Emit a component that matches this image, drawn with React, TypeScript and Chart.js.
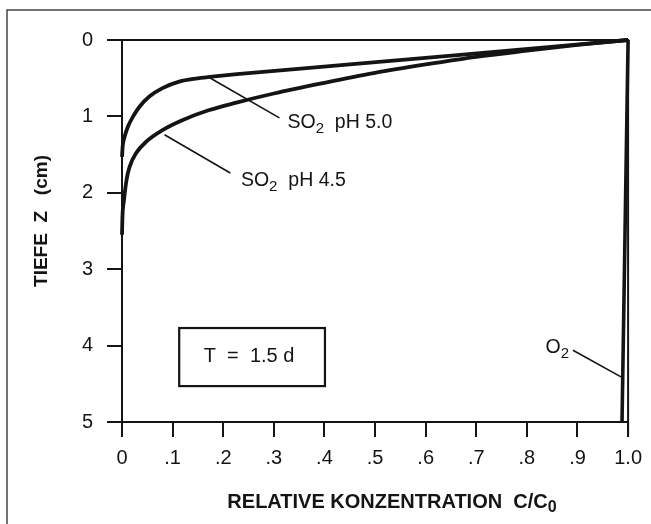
import React, { useEffect, useRef } from "react";
import { Chart, registerables } from "chart.js";

Chart.register(...registerables);

// SO2 pH 5.0 profile: relative concentration vs depth
const ph50Conc = [0, 0.0015, 0.005, 0.012, 0.022, 0.035, 0.054, 0.08, 0.113, 0.145, 0.178, 0.227, 0.45, 0.657, 1.0];
const ph50Depth = [1.53, 1.38, 1.27, 1.13, 1.0, 0.87, 0.74, 0.63, 0.545, 0.505, 0.48, 0.448, 0.32, 0.2, 0.0];
// SO2 pH 4.5 profile
const ph45Conc = [0, 0.001, 0.004, 0.009, 0.015, 0.028, 0.048, 0.08, 0.119, 0.171, 0.226, 0.3, 0.4, 0.5, 0.6, 0.7, 0.8, 0.9, 1.0];
const ph45Depth = [2.55, 2.3, 2.09, 1.83, 1.66, 1.48, 1.33, 1.18, 1.05, 0.92, 0.82, 0.7, 0.56, 0.43, 0.32, 0.22, 0.14, 0.065, 0.0];
// O2 profile
const o2Conc = [1.0, 0.988];
const o2Depth = [0, 5];

const xTickLabels = ["0", ".1", ".2", ".3", ".4", ".5", ".6", ".7", ".8", ".9", "1.0"];
const yTickLabels = ["0", "1", "2", "3", "4", "5"];

const toPoints = (xs: number[], ys: number[]) => xs.map((x, i) => ({ x, y: ys[i] }));

const INK = "#141414";
const FONT = "'Liberation Sans', Arial, Helvetica, sans-serif";

type Part = { t: string; sub?: boolean };

function drawRich(ctx: CanvasRenderingContext2D, parts: Part[], x: number, y: number, size: number, subSize: number, subDy: number, weight = "normal") {
  let cx = x;
  for (const p of parts) {
    const s = p.sub ? subSize : size;
    ctx.font = `${weight} ${s}px ${FONT}`;
    ctx.fillText(p.t, cx, p.sub ? y + subDy : y);
    cx += ctx.measureText(p.t).width;
  }
  return cx;
}

function richWidth(ctx: CanvasRenderingContext2D, parts: Part[], size: number, subSize: number, weight = "normal") {
  let w = 0;
  for (const p of parts) {
    ctx.font = `${weight} ${p.sub ? subSize : size}px ${FONT}`;
    w += ctx.measureText(p.t).width;
  }
  return w;
}

const annotations = {
  id: "annotations",
  afterDraw(chart: any) {
    const ctx: CanvasRenderingContext2D = chart.ctx;
    const { left, right, top, bottom } = chart.chartArea;
    const xs = chart.scales.x;
    const ys = chart.scales.y;
    const px = (v: number) => xs.getPixelForValue(v);
    const py = (v: number) => ys.getPixelForValue(v);
    ctx.save();
    ctx.strokeStyle = INK;
    ctx.fillStyle = INK;
    ctx.lineCap = "butt";

    // outer frame (left & top)
    ctx.strokeStyle = "#444";
    ctx.lineWidth = 1.5;
    ctx.beginPath();
    ctx.moveTo(7, 524);
    ctx.lineTo(7, 10);
    ctx.lineTo(651, 10);
    ctx.stroke();

    // top and right chart frame
    ctx.strokeStyle = INK;
    ctx.lineWidth = 2;
    ctx.beginPath();
    ctx.moveTo(left, top);
    ctx.lineTo(right, top);
    ctx.lineTo(right, bottom + 15);
    ctx.stroke();

    // leaders
    ctx.lineWidth = 1.6;
    const leader = (x1: number, y1: number, x2: number, y2: number) => {
      ctx.beginPath();
      ctx.moveTo(px(x1), py(y1));
      ctx.lineTo(px(x2), py(y2));
      ctx.stroke();
    };
    leader(0.175, 0.5, 0.311, 1.02);
    leader(0.084, 1.24, 0.214, 1.74);
    leader(0.891, 4.06, 0.986, 4.41);

    ctx.textBaseline = "alphabetic";
    ctx.textAlign = "left";
    drawRich(ctx, [{ t: "SO" }, { t: "2", sub: true }, { t: "  pH 5.0" }], px(0.327), py(1.15), 19.5, 15, 5);
    drawRich(ctx, [{ t: "SO" }, { t: "2", sub: true }, { t: "  pH 4.5" }], px(0.235), py(1.91), 19.5, 15, 5);
    drawRich(ctx, [{ t: "O" }, { t: "2", sub: true }], px(0.837), py(4.1), 19.5, 15, 5);

    // T box
    ctx.lineWidth = 2.2;
    const bx1 = px(0.113), bx2 = px(0.401), by1 = py(3.77), by2 = py(4.53);
    ctx.strokeRect(bx1, by1, bx2 - bx1, by2 - by1);
    ctx.font = `normal 20px ${FONT}`;
    ctx.textAlign = "center";
    ctx.fillText("T  =  1.5 d", (bx1 + bx2) / 2 - 3, py(4.21));

    // x axis title
    ctx.textAlign = "left";
    const xt: Part[] = [{ t: "RELATIVE KONZENTRATION  C/C" }, { t: "0", sub: true }];
    const w = richWidth(ctx, xt, 20, 16, "bold");
    drawRich(ctx, xt, 392 - w / 2, 508, 20, 16, 4, "bold");

    // y axis title
    ctx.save();
    ctx.translate(47, 221);
    ctx.rotate(-Math.PI / 2);
    ctx.font = `bold 19px ${FONT}`;
    ctx.textAlign = "center";
    ctx.fillText("TIEFE  Z   (cm)", 0, 0);
    ctx.restore();

    ctx.restore();
  },
};

export default function App() {
  const ref = useRef<HTMLCanvasElement | null>(null);
  useEffect(() => {
    if (!ref.current) return;
    const lineDs = (label: string, data: any[], width: number) => ({
      label,
      data,
      borderColor: INK,
      borderWidth: width,
      pointRadius: 0,
      cubicInterpolationMode: "monotone" as const,
      fill: false,
      clip: 6,
    });
    const chart = new Chart(ref.current, {
      type: "line",
      data: {
        datasets: [
          lineDs("SO2 pH 5.0", toPoints(ph50Conc, ph50Depth), 3.8),
          lineDs("SO2 pH 4.5", toPoints(ph45Conc, ph45Depth), 3.8),
          lineDs("O2", toPoints(o2Conc, o2Depth), 3.6),
        ],
      },
      options: {
        animation: false,
        responsive: false,
        devicePixelRatio: 1,
        layout: { padding: { left: 0, top: 40, right: 15, bottom: 0 } },
        plugins: { legend: { display: false }, tooltip: { enabled: false } },
        scales: {
          x: {
            type: "linear",
            min: 0,
            max: 1,
            ticks: {
              stepSize: 0.1,
              padding: 9,
              color: INK,
              font: { family: FONT, size: 20 },
              maxRotation: 0,
              autoSkip: false,
              callback: (v: any) => xTickLabels[Math.round(Number(v) * 10)] ?? "",
            },
            grid: { drawOnChartArea: false, tickLength: 15, tickColor: INK, lineWidth: 2 },
            border: { display: true, color: INK, width: 2 },
            afterFit: (s: any) => {
              s.height = 102;
            },
          },
          y: {
            type: "linear",
            min: 0,
            max: 5,
            reverse: true,
            ticks: {
              stepSize: 1,
              padding: 14,
              color: INK,
              font: { family: FONT, size: 20 },
              autoSkip: false,
              callback: (v: any) => yTickLabels[Math.round(Number(v))] ?? "",
            },
            grid: { drawOnChartArea: false, tickLength: 15, tickColor: INK, lineWidth: 2 },
            border: { display: true, color: INK, width: 2 },
            afterFit: (s: any) => {
              s.width = 122;
            },
          },
        },
      },
      plugins: [annotations],
    });
    return () => chart.destroy();
  }, []);
  return (
    <div style={{ position: "absolute", left: 0, top: 0, width: 651, height: 524, background: "#fff" }}>
      <canvas ref={ref} width={651} height={524} style={{ width: 651, height: 524, display: "block" }} />
    </div>
  );
}
